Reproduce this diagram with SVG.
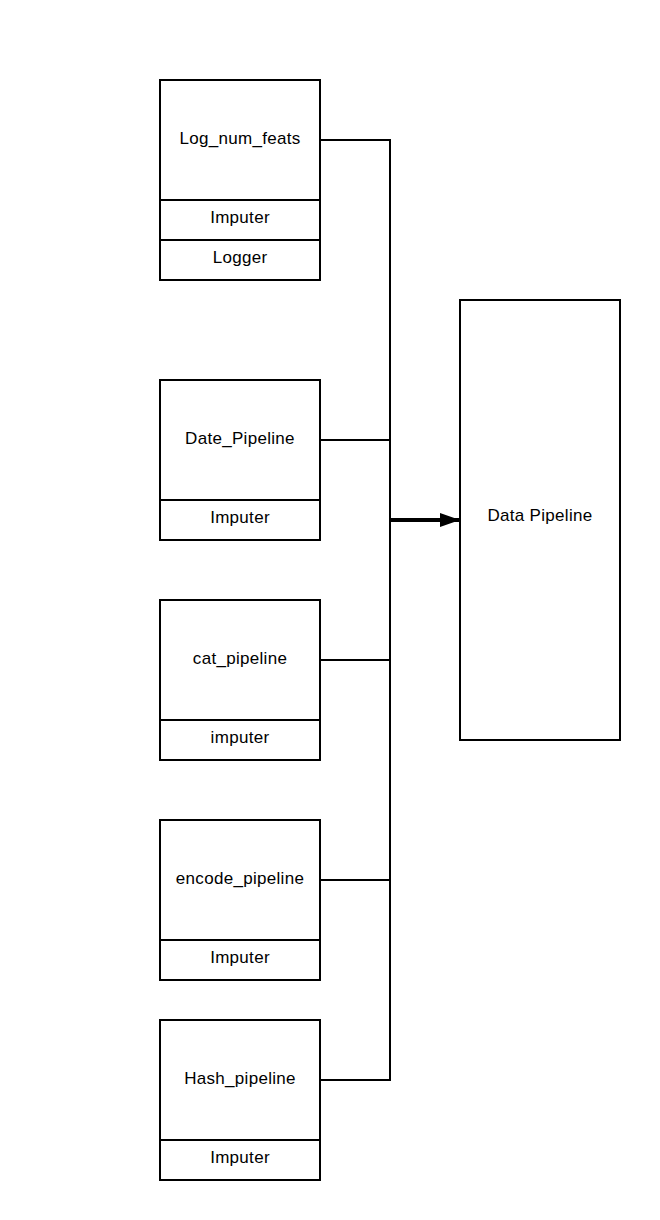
<svg xmlns="http://www.w3.org/2000/svg" width="660" height="1220" viewBox="0 0 660 1220">
<style>
.b{fill:#fff;stroke:#000;stroke-width:2}
.l{fill:none;stroke:#000;stroke-width:2}
text{font-family:"Liberation Sans",Arial,sans-serif;font-size:17px;letter-spacing:0.3px;fill:#000;text-anchor:middle;dominant-baseline:central}
</style>
<defs>
<marker id="ah" markerWidth="20" markerHeight="14" refX="19" refY="7" orient="auto" markerUnits="userSpaceOnUse">
<path d="M0,0 L20,7 L0,14 z" fill="#000"/>
</marker>
</defs>
<rect width="660" height="1220" fill="#fff"/>
<g id="connectors">
<path class="l" d="M320,140 H390 V1080 H320"/>
<path class="l" d="M320,440 H390"/>
<path class="l" d="M320,660 H390"/>
<path class="l" d="M320,880 H390"/>
<path d="M390,520 H459" fill="none" stroke="#000" stroke-width="4" marker-end="url(#ah)"/>
</g>
<g id="log_num_feats">
<rect class="b" x="160" y="80" width="160" height="200"/>
<path class="l" d="M160,200 H320 M160,240 H320"/>
<text x="240" y="138">Log_num_feats</text>
<text x="240" y="217">Imputer</text>
<text x="240" y="257">Logger</text>
</g>
<g id="date_pipeline">
<rect class="b" x="160" y="380" width="160" height="160"/>
<path class="l" d="M160,500 H320"/>
<text x="240" y="438">Date_Pipeline</text>
<text x="240" y="517">Imputer</text>
</g>
<g id="cat_pipeline">
<rect class="b" x="160" y="600" width="160" height="160"/>
<path class="l" d="M160,720 H320"/>
<text x="240" y="658">cat_pipeline</text>
<text x="240" y="737">imputer</text>
</g>
<g id="encode_pipeline">
<rect class="b" x="160" y="820" width="160" height="160"/>
<path class="l" d="M160,940 H320"/>
<text x="240" y="878">encode_pipeline</text>
<text x="240" y="957">Imputer</text>
</g>
<g id="hash_pipeline">
<rect class="b" x="160" y="1020" width="160" height="160"/>
<path class="l" d="M160,1140 H320"/>
<text x="240" y="1078">Hash_pipeline</text>
<text x="240" y="1157">Imputer</text>
</g>
<g id="data_pipeline">
<rect class="b" x="460" y="300" width="160" height="440"/>
<text x="540" y="515">Data Pipeline</text>
</g>
</svg>
